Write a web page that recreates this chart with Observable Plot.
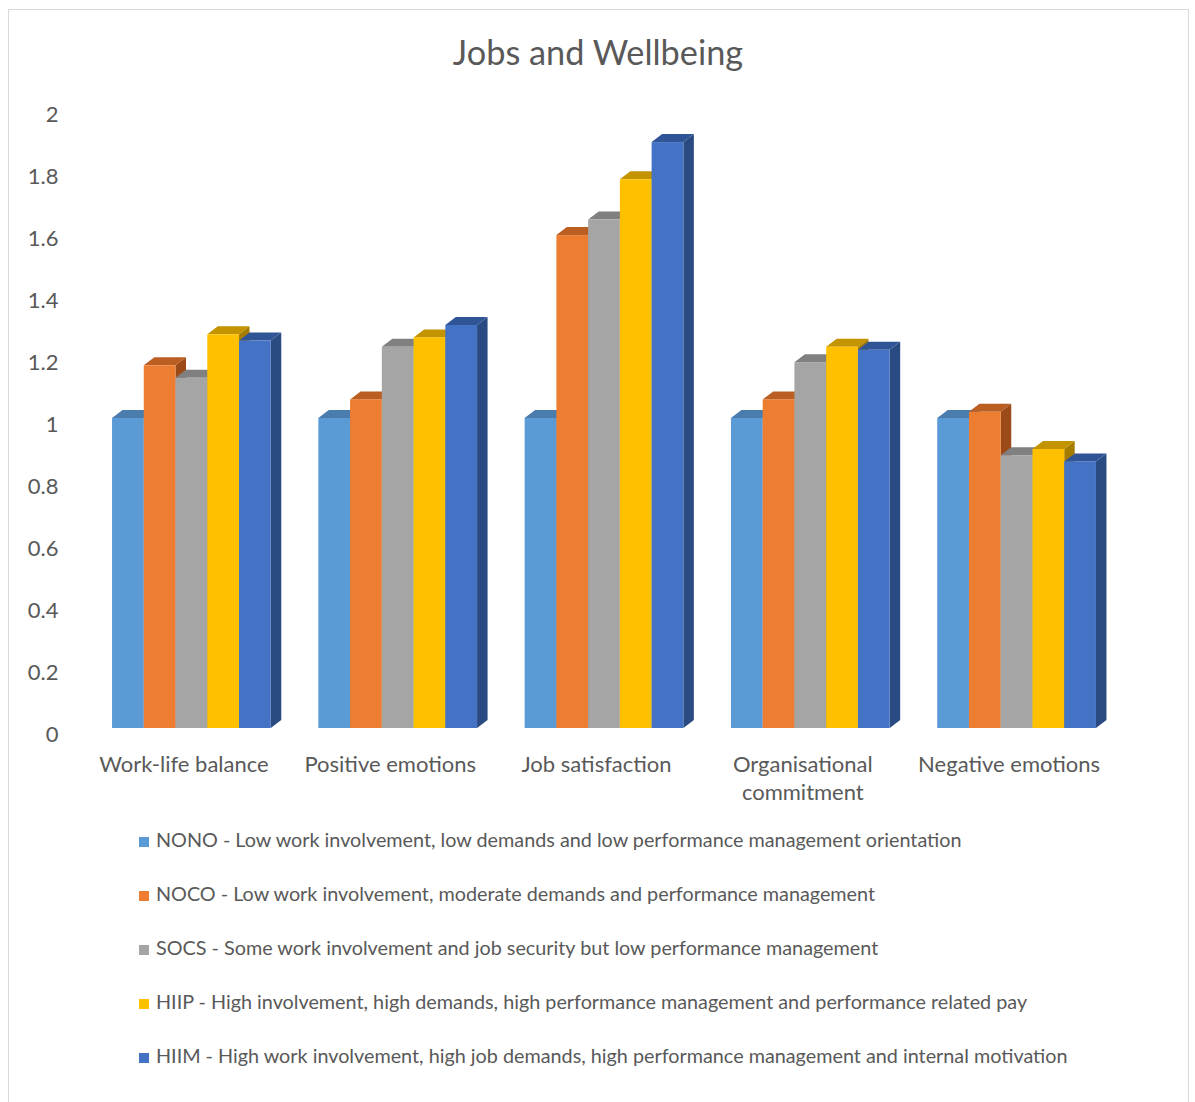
<!DOCTYPE html>
<html>
<head>
<meta charset="utf-8">
<script src="https://cdn.jsdelivr.net/npm/d3@7"></script>
<script src="https://cdn.jsdelivr.net/npm/@observablehq/plot@0.6"></script>
<style>
  body { margin: 0; background: #fff; font-family: Lato, "Open Sans", sans-serif; color: #595959; }
  #frame { position: absolute; left: 8px; top: 9px; width: 1181px; height: 1120px; border: 1.5px solid #d9d9d9; box-sizing: border-box; }
  #title { position: absolute; left: 0; width: 1196px; top: 32px; line-height: 40px; text-align: center; font-size: 34.3px; }
  #chart { position: absolute; left: 9px; top: 90px; }
  .leg { position: absolute; left: 139px; height: 24px; line-height: 24px; font-size: 19.8px; white-space: nowrap; }
  .leg span.sw { display: inline-block; width: 10px; height: 10px; margin-right: 7px; vertical-align: 0px; }
</style>
</head>
<body>
<div id="frame"></div>
<div id="title">Jobs and Wellbeing</div>
<div id="chart"></div>
<div id="legend"></div>
<script>
// ---- data ----
const categories = ["Work-life balance", "Positive emotions", "Job satisfaction", "Organisational commitment", "Negative emotions"];
const categoryTickLabels = ["Work-life balance", "Positive emotions", "Job satisfaction", "Organisational\ncommitment", "Negative emotions"];
const seriesKeys = ["NONO", "NOCO", "SOCS", "HIIP", "HIIM"];
const seriesLabels = [
  "NONO - Low work involvement, low demands and low performance management orientation",
  "NOCO - Low work involvement, moderate demands and performance management",
  "SOCS - Some work involvement and job security but low performance management",
  "HIIP - High involvement, high demands, high performance management and performance related pay",
  "HIIM - High work involvement, high job demands, high performance management and internal motivation"
];
const NONO = [1.00, 1.00, 1.00, 1.00, 1.00];
const NOCO = [1.17, 1.06, 1.59, 1.06, 1.02];
const SOCS = [1.13, 1.23, 1.64, 1.18, 0.88];
const HIIP = [1.27, 1.26, 1.77, 1.23, 0.90];
const HIIM = [1.25, 1.30, 1.89, 1.22, 0.86];
const yTicks = [0, 0.2, 0.4, 0.6, 0.8, 1, 1.2, 1.4, 1.6, 1.8, 2];

// ---- styles ----
const frontColors = ["#5B9BD5", "#ED7D31", "#A5A5A5", "#FFC000", "#4472C4"];
const topColors   = ["#4A7DAE", "#BA5E22", "#808080", "#C39300", "#2F5597"];
const sideColors  = ["#3F6C98", "#9C4A18", "#6E6E6E", "#A67C00", "#2A4A82"];
const DEPTH_X = 10.5, DEPTH_Y = 8;

const seriesValues = [NONO, NOCO, SOCS, HIIP, HIIM];
const table = [];
categories.forEach((c, ci) => {
  seriesKeys.forEach((s, si) => {
    table.push({category: c, series: s, si, value: seriesValues[si][ci]});
  });
});

function bars3d(index, scales, values, dims, context, next) {
  const g = next(index, scales, values, dims, context);
  const rects = Array.from(g.querySelectorAll("rect"));
  const ns = "http://www.w3.org/2000/svg";
  const sides = [], tops = [];
  rects.forEach((r, k) => {
    const x = +r.getAttribute("x"), y = +r.getAttribute("y");
    const w = +r.getAttribute("width"), h = +r.getAttribute("height");
    const si = table[index[k]].si;
    const side = document.createElementNS(ns, "path");
    side.setAttribute("d", `M${x + w},${y}L${x + w + DEPTH_X},${y - DEPTH_Y}L${x + w + DEPTH_X},${y + h - DEPTH_Y}L${x + w},${y + h}Z`);
    side.setAttribute("fill", sideColors[si]);
    sides.push(side);
    const top = document.createElementNS(ns, "path");
    top.setAttribute("d", `M${x},${y}L${x + DEPTH_X},${y - DEPTH_Y}L${x + w + DEPTH_X},${y - DEPTH_Y}L${x + w},${y}Z`);
    top.setAttribute("fill", topColors[si]);
    tops.push(top);
  });
  sides.forEach(p => g.appendChild(p));
  tops.forEach(p => g.appendChild(p));
  rects.forEach(r => g.appendChild(r));
  return g;
}

const chart = Plot.plot({
  width: 1178,
  height: 720,
  marginLeft: 79.25,
  marginRight: 67.25,
  marginTop: 18,
  marginBottom: 82,
  style: {color: "#595959", fontFamily: "Lato, 'Open Sans', sans-serif", background: "transparent"},
  fx: {domain: categories, paddingInner: 0.2306, paddingOuter: 0.1153, round: false, label: null},
  x: {domain: seriesKeys, padding: 0, round: false, axis: null},
  y: {domain: [0, 2], label: null},
  color: {domain: seriesKeys, range: frontColors},
  marks: [
    Plot.barY(table, {fx: "category", x: "series", y: "value", fill: "series", render: bars3d}),
    Plot.axisY({ticks: yTicks, tickSize: 0, tickPadding: 54, dy: 6, fontSize: 22, label: null,
      tickFormat: d => String(+d.toFixed(1))}),
    Plot.axisFx({anchor: "bottom", tickSize: 0, tickPadding: 24, dx: -8, fontSize: 22, lineHeight: 1.27, label: null,
      tickFormat: d => categoryTickLabels[categories.indexOf(d)]})
  ]
});
document.getElementById("chart").appendChild(chart);

const legend = document.getElementById("legend");
seriesLabels.forEach((lab, i) => {
  const div = document.createElement("div");
  div.className = "leg";
  div.style.top = (839 - 12 + 54 * i) + "px";
  const sw = document.createElement("span");
  sw.className = "sw";
  sw.style.background = frontColors[i];
  div.appendChild(sw);
  div.appendChild(document.createTextNode(lab));
  legend.appendChild(div);
});
</script>
</body>
</html>
